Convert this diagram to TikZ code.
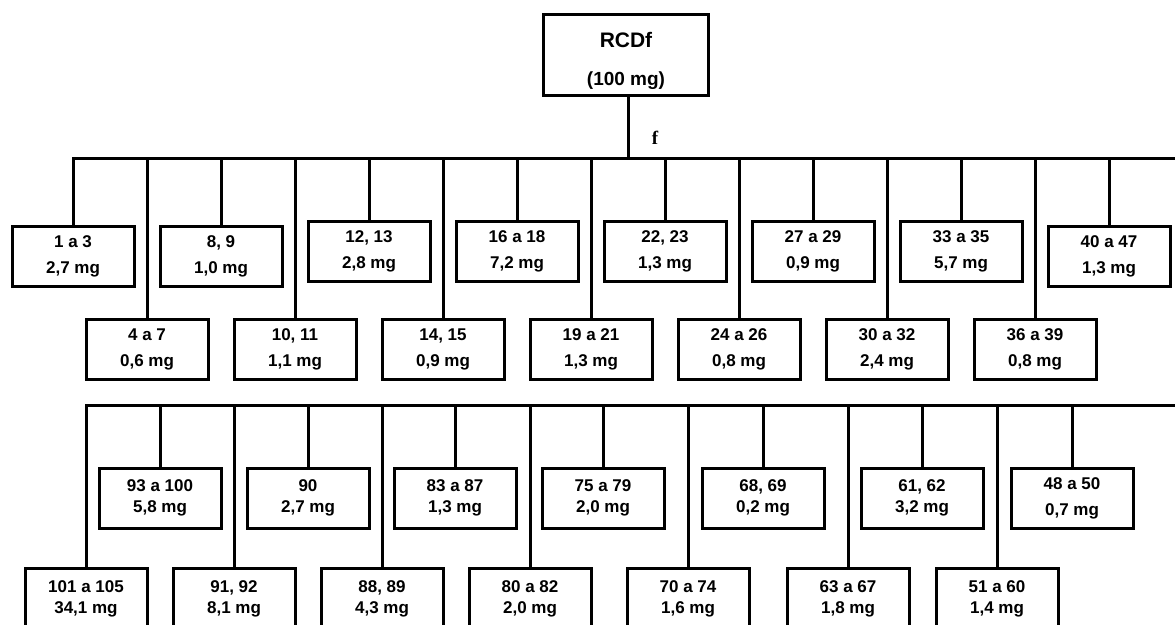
\documentclass[tikz,border=0pt]{standalone}
\usepackage{fontspec}
\setmainfont{Liberation Sans}
\newfontfamily\tagserif{Liberation Serif}
\definecolor{ink}{HTML}{000000}
\tikzset{
  fraction/.style={draw=ink, line width=2.25pt, minimum width=91.5pt,
                   minimum height=45pt, inner sep=0pt, align=center, text=ink,
                   font=\bfseries\fontsize{12.75}{19.5}\selectfont},
  lowfraction/.style={fraction, font=\bfseries\fontsize{12.75}{15.75}\selectfont},
  extract/.style={fraction, minimum width=123.75pt, minimum height=60.75pt,
                  font=\bfseries\fontsize{15.75}{28.5}\selectfont},
  link/.style={draw=ink, line width=2.25pt},
  tag/.style={inner sep=0pt, text=ink,
              font=\tagserif\bfseries\fontsize{14.25}{17}\selectfont},
}

\begin{document}
\begin{tikzpicture}[x=0.75pt, y=-0.75pt]
  \useasboundingbox (0,0) rectangle (1175,625);

  % crude extract (the strut pulls the two lines a little below the middle)
  \node[extract] (rcdf) at (626,55)
    {\rule{0pt}{21pt}RCDf\\{\fontsize{14.25}{28.5}\selectfont (100 mg)}};
  \node[tag] (flabel) at (655,138) {f};

  % --- first series: fractions 1 to 47 -------------------------------------
  \node[fraction] (a1)  at (73,256.5)   {1 a 3\\2,7 mg};
  \node[fraction] (a2)  at (147,349.5)  {4 a 7\\0,6 mg};
  \node[fraction] (a3)  at (221,256.5)  {8, 9\\1,0 mg};
  \node[fraction] (a4)  at (295,349.5)  {10, 11\\1,1 mg};
  \node[fraction] (a5)  at (369,251.5)  {12, 13\\2,8 mg};
  \node[fraction] (a6)  at (443,349.5)  {14, 15\\0,9 mg};
  \node[fraction] (a7)  at (517,251.5)  {16 a 18\\7,2 mg};
  \node[fraction] (a8)  at (591,349.5)  {19 a 21\\1,3 mg};
  \node[fraction] (a9)  at (665,251.5)  {22, 23\\1,3 mg};
  \node[fraction] (a10) at (739,349.5)  {24 a 26\\0,8 mg};
  \node[fraction] (a11) at (813,251.5)  {27 a 29\\0,9 mg};
  \node[fraction] (a12) at (887,349.5)  {30 a 32\\2,4 mg};
  \node[fraction] (a13) at (961,251.5)  {33 a 35\\5,7 mg};
  \node[fraction] (a14) at (1035,349.5) {36 a 39\\0,8 mg};
  \node[fraction] (a15) at (1109,256.5) {40 a 47\\1,3 mg};

  % --- second series: fractions 48 to 105 ----------------------------------
  \node[lowfraction] (b1)  at (86,598.5)  {101 a 105\\34,1 mg};
  \node[lowfraction] (b2)  at (160,498)   {93 a 100\\5,8 mg};
  \node[lowfraction] (b3)  at (234,598.5) {91, 92\\8,1 mg};
  \node[lowfraction] (b4)  at (308,498)   {90\\2,7 mg};
  \node[lowfraction] (b5)  at (382,598.5) {88, 89\\4,3 mg};
  \node[lowfraction] (b6)  at (455,498)   {83 a 87\\1,3 mg};
  \node[lowfraction] (b7)  at (530,598.5) {80 a 82\\2,0 mg};
  \node[lowfraction] (b8)  at (603,498)   {75 a 79\\2,0 mg};
  \node[lowfraction] (b9)  at (688,598.5) {70 a 74\\1,6 mg};
  \node[lowfraction] (b10) at (763,498)   {68, 69\\0,2 mg};
  \node[lowfraction] (b11) at (848,598.5) {63 a 67\\1,8 mg};
  \node[lowfraction] (b12) at (922,498)   {61, 62\\3,2 mg};
  \node[lowfraction] (b13) at (997,598.5) {51 a 60\\1,4 mg};
  \node[fraction]    (b14) at (1072,498)  {48 a 50\\0,7 mg};

  % --- connectors ----------------------------------------------------------
  \coordinate (topbus) at (628,158);
  \coordinate (topend) at (1175,158);
  \coordinate (lowend) at (1175,405);
  \draw[link] (rcdf.south -| topbus) -- (topbus);
  \draw[link] (a1.north) |- (topend);
  \foreach \n in {2,...,15} \draw[link] (a\n.north) -- (a\n.north |- topbus);
  \draw[link] (b1.north) |- (lowend);
  \foreach \n in {2,...,14} \draw[link] (b\n.north) -- (b\n.north |- lowend);

\end{tikzpicture}
\end{document}
